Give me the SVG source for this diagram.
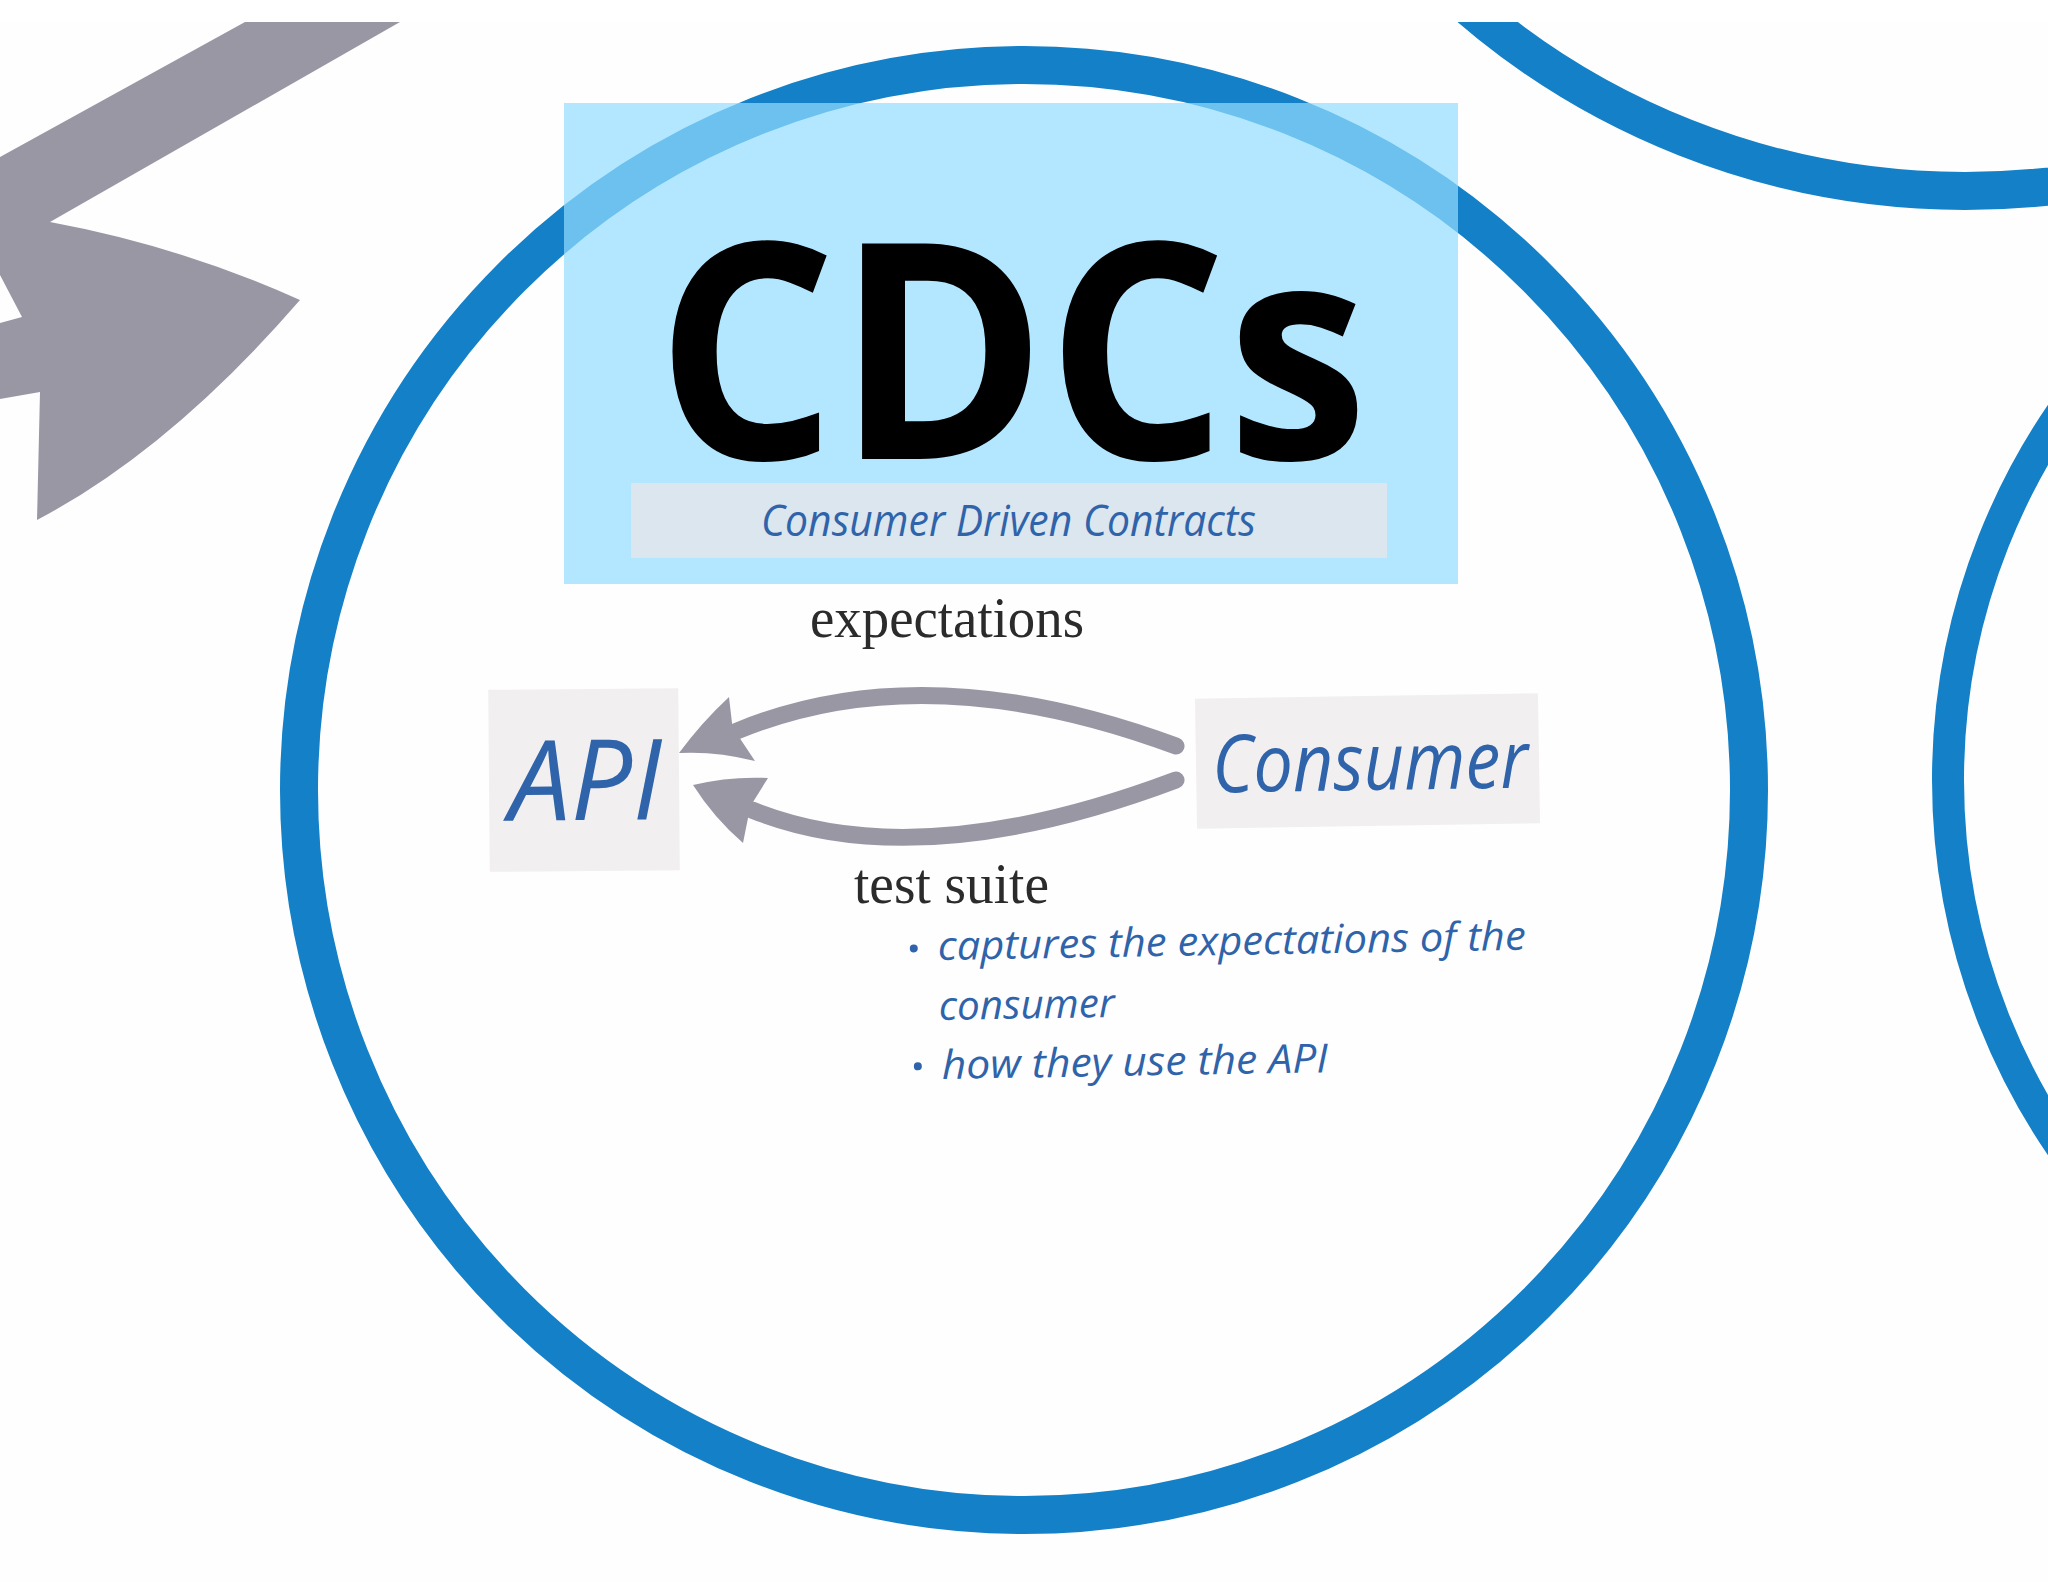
<svg xmlns="http://www.w3.org/2000/svg" width="2048" height="1582" viewBox="0 0 2048 1582">
  <style>
    .ring { fill: none; stroke: #1380c8; }
    .gray { fill: #9a97a5; }
    .shaft { fill: none; stroke: #9a97a5; stroke-width: 17; stroke-linecap: round; }
    .blue { font-family: "Open Sans", "Noto Sans", sans-serif; font-style: italic; fill: #2f63aa; }
    .serif { font-family: "Liberation Serif", serif; fill: #2b2b2b; }
    .card { fill: #f1eff0; }
  </style>
  <rect x="0" y="0" width="2048" height="1582" fill="#fefefe"/>

  <g id="background-shapes">
    <path class="gray" d="M245,22 L400,22 L50,222 Q180,246 300,300 Q170,450 37,520 L40,392 L0,399 L0,323 L22,317 L0,275 L0,157 Z"/>
    <circle class="ring" cx="1965" cy="-569" r="760" stroke-width="38"/>
    <circle class="ring" cx="2596" cy="780" r="648" stroke-width="32"/>
  </g>

  <g id="cdc-circle">
    <circle class="ring" cx="1024" cy="790" r="725" stroke-width="38"/>
  </g>

  <g id="title">
    <rect x="564" y="103" width="894" height="481" fill="#93ddff" fill-opacity="0.7"/>
    <text x="1012" y="459" text-anchor="middle" font-family="'Open Sans', 'Noto Sans', sans-serif" font-weight="bold" font-size="302" fill="#000" textLength="712" lengthAdjust="spacingAndGlyphs">CDCs</text>
    <rect x="631" y="483" width="756" height="75" fill="#dbe6ee"/>
    <text class="blue" x="761" y="536" font-size="44" textLength="495" lengthAdjust="spacingAndGlyphs">Consumer Driven Contracts</text>
  </g>

  <g id="node-api" transform="rotate(-0.5 583 779)">
    <rect class="card" x="489" y="689" width="190" height="182"/>
    <text class="blue" x="509" y="820" font-size="112" textLength="153" lengthAdjust="spacingAndGlyphs">API</text>
  </g>

  <g id="node-consumer" transform="rotate(-0.9 1367 761)">
    <rect class="card" x="1196" y="696" width="343" height="130"/>
    <text class="blue" x="1212" y="790" font-size="80" textLength="316" lengthAdjust="spacingAndGlyphs">Consumer</text>
  </g>

  <g id="connectors">
    <path class="shaft" d="M1176,746 Q925,653 737,731"/>
    <path class="gray" d="M679,753 Q702,722 729,697 L732,723 L741,740 L755,761 Q716,751 679,753 Z"/>
    <path class="shaft" d="M1176,780 Q918,877 752,810"/>
    <path class="gray" d="M693,785 Q730,776 768,778 L753,802 L748,818 L743,843 Q714,818 693,785 Z"/>
    <text class="serif" x="810" y="637" font-size="56" textLength="274" lengthAdjust="spacingAndGlyphs">expectations</text>
    <text class="serif" x="854" y="903" font-size="56" textLength="195" lengthAdjust="spacingAndGlyphs">test suite</text>
  </g>

  <g id="notes" transform="rotate(-1 938 960)">
    <circle cx="914" cy="948" r="4" fill="#2f63aa"/>
    <text class="blue" x="938" y="960" font-size="40" textLength="588" lengthAdjust="spacingAndGlyphs">captures the expectations of the</text>
    <text class="blue" x="938" y="1020" font-size="40" textLength="176" lengthAdjust="spacingAndGlyphs">consumer</text>
    <circle cx="916" cy="1066" r="4" fill="#2f63aa"/>
    <text class="blue" x="940" y="1079" font-size="40" textLength="386" lengthAdjust="spacingAndGlyphs">how they use the API</text>
  </g>

  <rect x="0" y="0" width="2048" height="22" fill="#ffffff"/>
</svg>
